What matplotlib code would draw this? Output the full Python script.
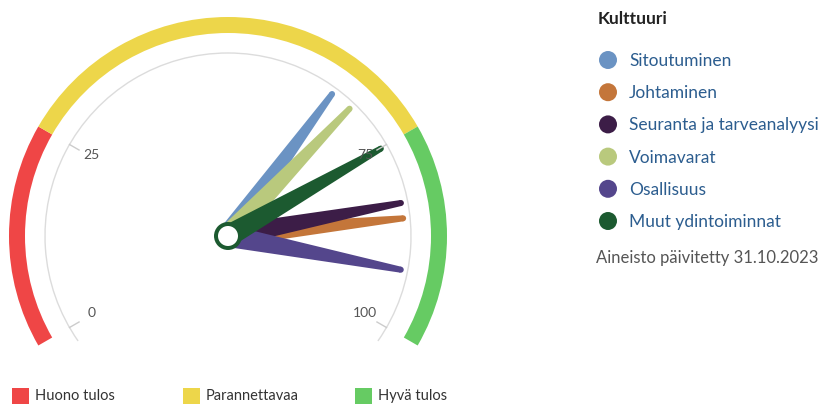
import numpy as np
import matplotlib
matplotlib.use("Agg")
import matplotlib.pyplot as plt
from matplotlib.patches import Wedge, Arc, Polygon, Circle, Rectangle

# data
series_names = ["Sitoutuminen", "Johtaminen", "Seuranta ja tarveanalyysi",
                "Voimavarat", "Osallisuus", "Muut ydintoiminnat"]
series_values = [65.1, 85.1, 83.0, 68.2, 92.1, 75.1]
series_colors = ["#6b93c3", "#c4763a", "#3c1d47", "#b9c97d", "#54468c", "#1c5a30"]

band_names = ["Huono tulos", "Parannettavaa", "Hyvä tulos"]
band_from = [0, 25, 75]
band_to = [25, 75, 100]
band_colors = ["#ef4646", "#edd64a", "#66cb63"]

tick_values = [0, 25, 75, 100]
legend_title = "Kulttuuri"
updated_text = "Aineisto päivitetty 31.10.2023"

plt.rcParams['font.family'] = ['Lato', 'DejaVu Sans']

W, H = 823, 404
fig = plt.figure(figsize=(W / 100, H / 100), dpi=100)
ax = fig.add_axes([0, 0, 1, 1])
ax.set_xlim(0, W)
ax.set_ylim(0, H)
ax.set_aspect('equal')
ax.axis('off')

cx, cy = 228, H - 236
start_deg, sweep = 210, 240


def val2deg(v):
    return start_deg - sweep * v / 100.0


# colour bands
for lo, hi, col in zip(band_from, band_to, band_colors):
    ax.add_patch(Wedge((cx, cy), 219, val2deg(hi), val2deg(lo), width=16,
                       facecolor=col, edgecolor='none'))

# axis line + ticks
ax.add_patch(Arc((cx, cy), 2 * 183, 2 * 183, theta1=-35, theta2=215,
                 color='#dcdcdc', lw=1))
for tv in tick_values:
    a = np.radians(val2deg(tv))
    ax.plot([cx + 183 * np.cos(a), cx + 172 * np.cos(a)],
            [cy + 183 * np.sin(a), cy + 172 * np.sin(a)], color='#cccccc', lw=1)
    ax.text(cx + 158 * np.cos(a), cy + 158 * np.sin(a) + 2, str(tv),
            ha='center', va='center', fontsize=10, color='#555555')

# needles
L, w0, w1 = 176, 11, 3
for val, col in zip(series_values, series_colors):
    a = np.radians(val2deg(val))
    u = np.array([np.cos(a), np.sin(a)])
    n = np.array([-u[1], u[0]])
    c = np.array([cx, cy])
    tip = c + u * L
    pts = [c + n * w0, tip + n * w1, tip - n * w1, c - n * w0]
    ax.add_patch(Polygon(pts, closed=True, facecolor=col, edgecolor='none'))
    ax.add_patch(Circle(tip, w1, facecolor=col, edgecolor='none'))

# hub
ax.add_patch(Circle((cx, cy), 14, facecolor=series_colors[-1], edgecolor='none', zorder=5))
ax.add_patch(Circle((cx, cy), 10, facecolor='white', edgecolor='none', zorder=6))

# right legend
ax.text(598, H - 19.5, legend_title, fontsize=12.5, fontweight='bold', color='#222222',
        ha='left', va='center')
for i, (name, col) in enumerate(zip(series_names, series_colors)):
    y = H - (60 + i * 32.2)
    ax.add_patch(Circle((608, y), 9, facecolor=col, edgecolor='none'))
    ax.text(629, y - 1, name, fontsize=12.5, color='#2c5d8f', ha='left', va='center')
ax.text(596, H - 258, updated_text, fontsize=12, color='#555555', ha='left', va='center')

# bottom legend
bx = [12, 183, 355]
for x, name, col in zip(bx, band_names, band_colors):
    ax.add_patch(Rectangle((x, H - 406), 17, 18, facecolor=col, edgecolor='none'))
    ax.text(x + 23, H - 396, name, fontsize=10.5, color='#333333', ha='left', va='center')

fig.savefig("out.png", dpi=100)
